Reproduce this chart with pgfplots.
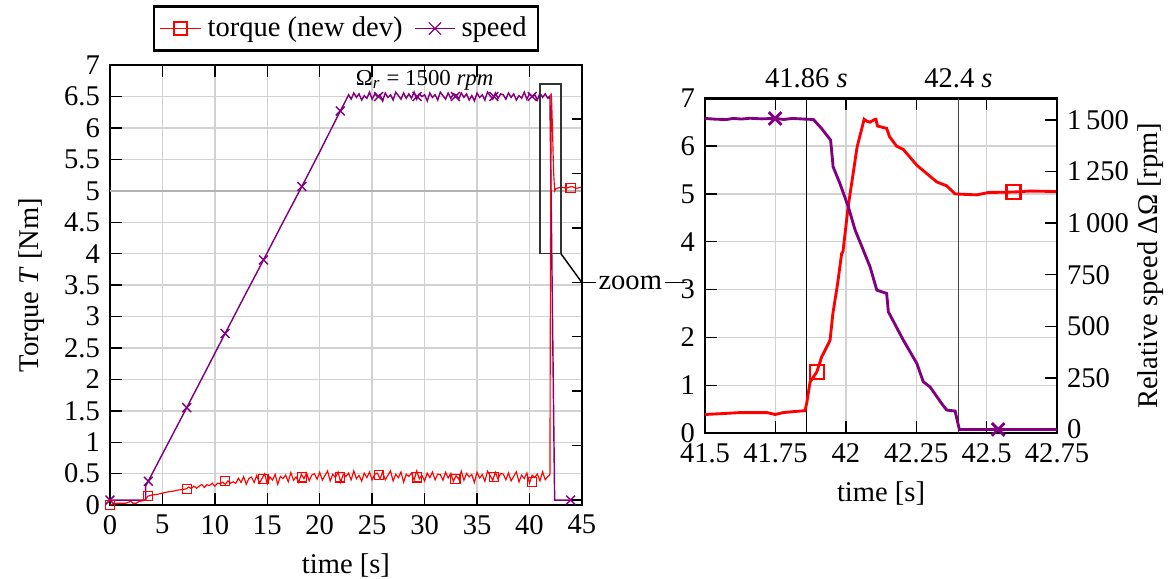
\documentclass[border=0pt]{standalone}
\usepackage{fontspec}
\setmainfont{Liberation Serif}
\usepackage{pgfplots}
\pgfplotsset{compat=1.18}

\definecolor{trq}{RGB}{255,0,0}
\definecolor{spd}{RGB}{128,0,128}

\pgfplotsset{
  base/.style={
    scale only axis,
    grid=major,
    major grid style={gray!35, line width=0.5pt},
    axis line style={line width=0.9pt},
    tick style={black, line width=0.5pt},
    /pgf/number format/assume math mode=true,
    /pgf/number format/1000 sep={\,},
  },
}

\begin{document}
\begin{tikzpicture}
% ---------------- full run ----------------
\begin{axis}[base,
  at={(0pt,0pt)}, anchor=south west,
  width=165.3pt, height=154.1pt,
  xmin=0, xmax=45, ymin=0, ymax=7,
  xtick={0,5,...,45}, ytick={0,0.5,...,7},
  ytick pos=left,
  xlabel={time [s]}, ylabel={Torque \textit{T} [Nm]},
  legend columns=2,
  legend image code/.code={%
    \draw[mark repeat=2, mark phase=2, #1] plot coordinates {(0cm,0cm) (0.25cm,0cm) (0.5cm,0cm)};},
  legend style={at={(0.5,1.03)}, anchor=south, draw=black, line width=0.9pt,
    inner xsep=2pt, inner ysep=1.5pt,
    /tikz/every even column/.append style={column sep=2pt}},
]
\addlegendimage{trq, line width=0.6pt, mark=square, mark size=2.3pt}
\addlegendentry{torque (new dev)}
\addlegendimage{spd, line width=0.4pt, mark=x, mark size=3pt}
\addlegendentry{speed}

\draw[gray!60, line width=0.8pt] (axis cs:0,5) -- (axis cs:45,5);

% speed (scaled onto the torque axis)
\addplot[spd, line width=0.5pt, forget plot] coordinates {
(0,0.08)(3.4,0.08)(3.4,0.30)(5,0.81)(7.32,1.55)(9,2.09)(10.98,2.73)(13,3.38)
(14.64,3.9)(16.5,4.5)(18.3,5.07)(20,5.62)(21.96,6.27)(22.5,6.44)
(22.75,6.528)(23.00,6.458)(23.25,6.556)(23.50,6.486)(23.75,6.542)(24.00,6.444)(24.25,6.514)(24.50,6.472)
(24.75,6.570)(25.00,6.458)(25.25,6.542)(25.50,6.500)(25.75,6.528)(26.00,6.430)(26.25,6.556)(26.50,6.486)
(26.75,6.528)(27.00,6.444)(27.25,6.570)(27.50,6.514)(27.75,6.458)(28.00,6.556)(28.25,6.472)(28.50,6.542)
(28.75,6.472)(29.00,6.570)(29.25,6.458)(29.50,6.542)(29.75,6.500)(30.00,6.528)(30.25,6.430)(30.50,6.556)
(30.75,6.486)(31.00,6.528)(31.25,6.444)(31.50,6.570)(31.75,6.514)(32.00,6.458)(32.25,6.556)(32.50,6.472)
(32.75,6.542)(33.00,6.528)(33.25,6.458)(33.50,6.556)(33.75,6.486)(34.00,6.542)(34.25,6.444)(34.50,6.514)
(34.75,6.430)(35.00,6.556)(35.25,6.486)(35.50,6.528)(35.75,6.444)(36.00,6.570)(36.25,6.514)(36.50,6.458)
(36.75,6.556)(37.00,6.472)(37.25,6.542)(37.50,6.528)(37.75,6.458)(38.00,6.556)(38.25,6.486)(38.50,6.542)
(38.75,6.444)(39.00,6.514)(39.25,6.472)(39.50,6.570)(39.75,6.458)(40.00,6.542)(40.25,6.500)(40.50,6.528)
(40.75,6.444)(41.00,6.556)(41.25,6.486)(41.50,6.542)(41.75,6.472)(41.95,6.51)(42.4,0.08)(45,0.08)
};
\addplot[spd, only marks, mark=x, mark size=2.2pt, line width=0.5pt, forget plot] coordinates {
(0,0.08)(3.66,0.38)(7.32,1.55)(10.98,2.73)(14.64,3.9)(18.3,5.07)(21.96,6.27)
(25.62,6.5)(29.28,6.5)(32.94,6.5)(36.6,6.5)(40.26,6.5)(43.92,0.08)
};

% torque
\addplot[trq, line width=0.4pt, forget plot] coordinates {
(0,0)(0.3,0.02)(0.8,0.03)(1.5,0.03)(2.0,0.06)(2.2,0.03)(2.5,0.03)(2.8,0.06)(3.2,0.07)
(3.4,0.09)(3.6,0.14)(4.0,0.16)(4.5,0.17)(5.0,0.19)(5.5,0.21)(6.0,0.22)(6.5,0.24)(7.0,0.25)(7.3,0.26)
(7.50,0.288)(7.75,0.263)(8.00,0.304)(8.25,0.268)(8.50,0.299)(8.75,0.329)(9.00,0.281)(9.25,0.323)
(9.50,0.312)(9.75,0.348)(10.00,0.300)(10.25,0.347)(10.50,0.340)(10.75,0.363)(11.00,0.332)(11.25,0.385)
(11.50,0.348)(11.75,0.371)(12.00,0.346)(12.25,0.428)(12.50,0.360)(12.75,0.453)(13.00,0.331)(13.25,0.425)
(13.50,0.446)(13.75,0.360)(14.00,0.472)(14.25,0.349)(14.50,0.423)(14.75,0.498)(15.00,0.338)(15.25,0.449)
(15.50,0.397)(15.75,0.490)(16.00,0.330)(16.25,0.457)(16.50,0.423)(16.75,0.478)(17.00,0.371)(17.25,0.518)
(17.50,0.394)(17.75,0.451)(18.00,0.363)(18.25,0.490)(18.50,0.420)(18.75,0.511)(19.00,0.386)(19.25,0.479)
(19.50,0.499)(19.75,0.412)(20.00,0.522)(20.25,0.397)(20.50,0.470)(20.75,0.543)(21.00,0.383)(21.25,0.491)
(21.50,0.437)(21.75,0.527)(22.00,0.365)(22.25,0.491)(22.50,0.455)(22.75,0.509)(23.00,0.401)(23.25,0.545)
(23.50,0.419)(23.75,0.473)(24.00,0.383)(24.25,0.509)(24.50,0.437)(24.75,0.527)(25.00,0.401)(25.25,0.491)
(25.50,0.509)(25.75,0.419)(26.00,0.527)(26.25,0.401)(26.50,0.473)(26.75,0.545)(27.00,0.383)(27.25,0.491)
(27.50,0.437)(27.75,0.527)(28.00,0.365)(28.25,0.491)(28.50,0.455)(28.75,0.509)(29.00,0.401)(29.25,0.545)
(29.50,0.419)(29.75,0.473)(30.00,0.383)(30.25,0.509)(30.50,0.437)(30.75,0.527)(31.00,0.401)(31.25,0.491)
(31.50,0.486)(31.75,0.396)(32.00,0.522)(32.25,0.432)(32.50,0.504)(32.75,0.378)(33.00,0.468)(33.25,0.414)
(33.50,0.540)(33.75,0.396)(34.00,0.504)(34.25,0.450)(34.50,0.486)(34.75,0.360)(35.00,0.522)(35.25,0.432)
(35.50,0.486)(35.75,0.378)(36.00,0.540)(36.25,0.468)(36.50,0.396)(36.75,0.522)(37.00,0.414)(37.25,0.504)
(37.50,0.494)(37.75,0.404)(38.00,0.512)(38.25,0.386)(38.50,0.458)(38.75,0.530)(39.00,0.368)(39.25,0.476)
(39.50,0.422)(39.75,0.512)(40.00,0.350)(40.25,0.476)(40.50,0.440)(40.75,0.494)(41.00,0.386)(41.25,0.530)
(41.50,0.404)(41.75,0.458)(41.90,0.470)(41.95,0.500)(42.00,3.80)(42.07,6.55)(42.11,6.45)(42.20,5.95)
(42.30,5.30)(42.40,5.00)(42.50,5.03)(43.00,5.06)(43.50,5.04)(44.00,5.07)(44.50,5.04)(45.00,5.06)
};
\addplot[trq, only marks, mark=square, mark size=1.6pt, line width=0.4pt, forget plot] coordinates {
(0,0)(3.66,0.15)(7.32,0.26)(10.98,0.38)(14.64,0.42)(18.3,0.44)(21.96,0.44)
(25.62,0.48)(29.28,0.44)(32.94,0.42)(36.6,0.45)(40.26,0.37)(43.92,5.05)
};

\node[font=\footnotesize] at (axis cs:30,6.76) {Ω\textsubscript{\textit{r}} = 1500 \textit{rpm}};
\draw[black!80, line width=0.5pt] (axis cs:41,4) rectangle (axis cs:43,6.7);
\draw[black, line width=0.5pt] (axis cs:43,4) -- (axis cs:45,3.54);
\coordinate (zc) at (axis cs:45,3.54);
\end{axis}

% right-hand tick marks of the full-run panel
\begin{axis}[
  scale only axis, at={(0pt,0pt)}, anchor=south west,
  width=165.3pt, height=154.1pt,
  xmin=0, xmax=45, ymin=0, ymax=7,
  hide x axis, axis y line*=right,
  ytick={0.08,0.946,1.812,2.678,3.544,4.41,5.276,6.142},
  yticklabels={},
  axis line style={line width=0.9pt},
  tick style={black, line width=0.5pt},
  major tick length=3.5pt,
]
\addplot[draw=none] coordinates {(0,0)};
\end{axis}

\draw[black, line width=0.5pt] (zc) -- node[pos=0.46, fill=white, inner sep=1pt, font=\normalsize] {zoom} ++(36.8pt,0);

% ---------------- zoomed window ----------------
\begin{axis}[base,
  at={(208.4pt,25.2pt)}, anchor=south west,
  width=123.3pt, height=117.3pt,
  xmin=41.5, xmax=42.75, ymin=0, ymax=7,
  xtick={41.5,41.75,42,42.25,42.5,42.75},
  ytick={0,1,...,7},
  ytick pos=left,
  xlabel={time [s]},
  clip=false,
]
\draw[black, line width=0.5pt] (axis cs:41.86,0) -- (axis cs:41.86,7);
\draw[black!75, line width=0.5pt] (axis cs:42.4,0) -- (axis cs:42.4,7);
\node[above, font=\normalsize] at (axis cs:41.86,7) {41.86 \textit{s}};
\node[above, font=\normalsize] at (axis cs:42.4,7) {42.4 \textit{s}};

\addplot[trq, line width=1pt] coordinates {
(41.50,0.39)(41.565,0.41)(41.624,0.43)(41.684,0.43)(41.72,0.43)(41.749,0.39)(41.778,0.43)
(41.814,0.45)(41.855,0.47)(41.861,0.62)(41.873,1.07)(41.897,1.28)(41.914,1.59)(41.944,1.94)
(41.954,2.5)(41.971,3.13)(41.985,3.75)(41.99,3.8)(42.008,4.72)(42.04,5.98)(42.065,6.56)
(42.075,6.52)(42.086,6.5)(42.1,6.55)(42.107,6.56)(42.112,6.42)(42.145,6.37)(42.155,6.2)
(42.18,6.0)(42.204,5.93)(42.252,5.6)(42.323,5.25)(42.358,5.17)(42.388,5.0)(42.465,4.98)
(42.506,5.03)(42.595,5.04)(42.654,5.06)(42.75,5.05)
};
\addplot[trq, only marks, mark=square, mark size=2.45pt, line width=0.9pt] coordinates {
(41.897,1.28)(42.595,5.04)
};
\end{axis}

\begin{axis}[
  scale only axis, at={(208.4pt,25.2pt)}, anchor=south west,
  width=123.3pt, height=117.3pt,
  xmin=41.5, xmax=42.75, ymin=-18, ymax=1605,
  hide x axis, axis y line*=right,
  ytick={0,250,...,1500},
  ylabel={Relative speed ΔΩ [rpm]},
  ylabel shift=-4pt,
  axis line style={line width=0.9pt},
  tick style={black, line width=0.5pt},
  /pgf/number format/assume math mode=true,
  /pgf/number format/1000 sep={\,},
]
\addplot[spd, line width=1pt] coordinates {
(41.5,1507)(41.54,1503)(41.577,1502)(41.6,1507)(41.63,1504)(41.66,1508)(41.7,1505)
(41.749,1507)(41.78,1502)(41.81,1507)(41.85,1504)(41.885,1502)(41.914,1458)(41.946,1402)
(41.955,1272)(41.979,1192)(42.009,1078)(42.033,966)(42.062,869)(42.086,788)(42.11,675)
(42.145,659)(42.151,570)(42.204,433)(42.252,320)(42.275,231)(42.299,206)(42.34,126)
(42.358,94)(42.388,89)(42.403,0)(42.75,0)
};
\addplot[spd, only marks, mark=x, mark size=3.15pt, line width=1pt] coordinates {
(41.749,1507)(42.541,0)
};
\end{axis}

\pgfresetboundingbox
\path[use as bounding box] (-38.5pt,-25.6pt) rectangle (372.3pt,176.9pt);
\end{tikzpicture}
\end{document}
